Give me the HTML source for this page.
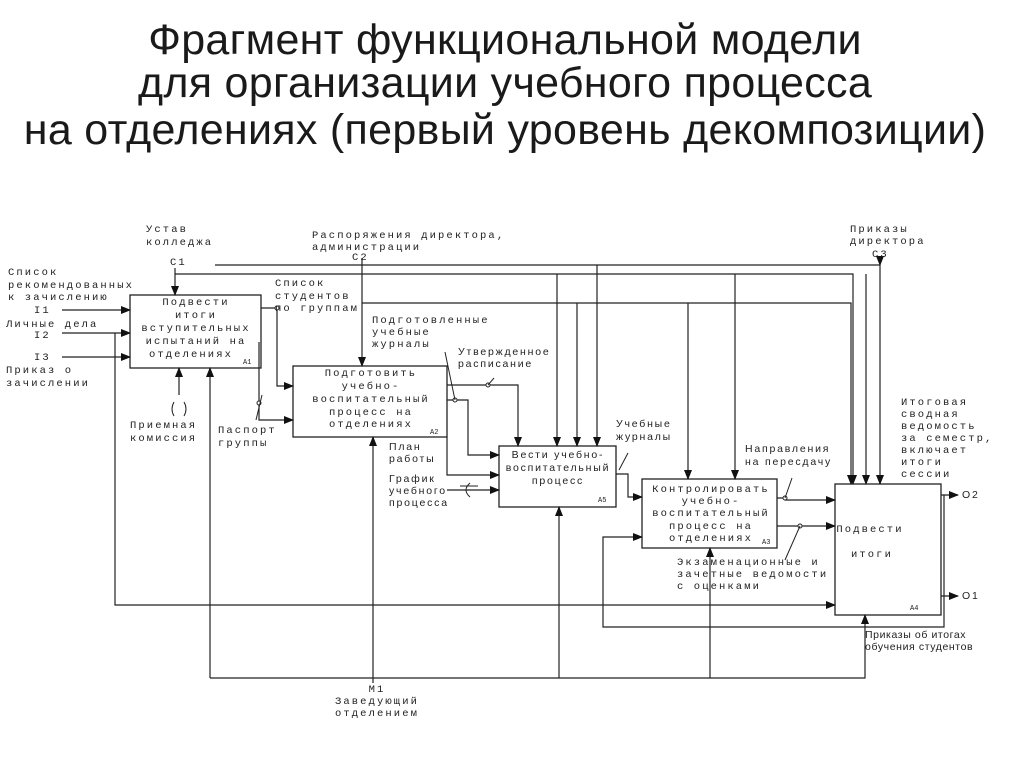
<!DOCTYPE html>
<html><head><meta charset="utf-8"><style>
html,body{margin:0;padding:0;background:#fff;width:1024px;height:768px;overflow:hidden}
.t{position:absolute;left:0;width:1010px;text-align:center;font-family:"Liberation Sans",sans-serif;font-size:43px;color:#1a1a1a;line-height:46px;white-space:nowrap;letter-spacing:0.3px}
svg{position:absolute;left:0;top:0}
text{font-family:"Liberation Mono",monospace;font-size:10.5px;fill:#222;letter-spacing:2.1px}
.s{font-family:"Liberation Sans",sans-serif;font-size:10.5px;letter-spacing:1.8px}
</style></head><body>
<div class="t" style="top:17px">Фрагмент функциональной модели</div>
<div class="t" style="top:60px">для организации учебного процесса</div>
<div class="t" style="top:107px">на отделениях (первый уровень декомпозиции)</div>
<svg width="1024" height="768" viewBox="0 0 1024 768">
<defs><marker id="a" markerWidth="10" markerHeight="8" refX="9" refY="4" orient="auto" markerUnits="userSpaceOnUse"><path d="M0,0 L10,4 L0,8z" fill="#111"/></marker></defs>
<g fill="none" stroke="#222" stroke-width="1.3">
<rect x="130" y="295" width="131" height="73"/>
<rect x="293" y="366" width="154" height="71"/>
<rect x="499" y="446" width="117" height="61"/>
<rect x="642" y="479" width="135" height="69"/>
<rect x="835" y="484" width="106" height="131"/>
</g>
<g fill="none" stroke="#222" stroke-width="1.2" marker-end="url(#a)">
<path d="M175,268 V295"/>
<path d="M175,274 H853 V484"/>
<path d="M215,265 H880 V484"/>
<path d="M880,258 V265"/>
<path d="M362,258 V366"/>
<path d="M362,303 H851 V484" />
<path d="M557,274 V446"/><path d="M577,303 V446"/><path d="M597,265 V446"/>
<path d="M688,303 V479"/><path d="M735,274 V479"/><path d="M866,274 V484"/>
<path d="M62,310 H130"/><path d="M62,333 H130"/><path d="M62,357 H130"/>
<path d="M115,333 V605 H835"/>
<path d="M261,308 H277 V386 H293"/>
<path d="M259,342 V420 H293"/>
<path d="M179,395 V368"/>
<path d="M210,678 V368"/>
<path d="M210,678 H865 V615"/>
<path d="M373,683 V437"/>
<path d="M559,678 V507"/><path d="M710,678 V548"/>
<path d="M447,385 H518 V446"/>
<path d="M447,400 H468 V455 H499"/>
<path d="M447,437 V475 H499"/>
<path d="M447,490 H499"/>
<path d="M616,474 H628 V497 H642"/>
<path d="M777,498 H785 V500 H835"/>
<path d="M777,526 H835"/>
<path d="M941,495 H958"/><path d="M941,596 H958"/>
<path d="M944,495 V627 H603 V537 H642"/>
</g>
<g fill="#fff" stroke="#222" stroke-width="1">
<circle cx="277" cy="308" r="2"/><circle cx="259" cy="403" r="2"/><circle cx="488" cy="385" r="2"/><circle cx="455" cy="400" r="2"/><circle cx="785" cy="498" r="2"/><circle cx="800" cy="526" r="2"/>
</g>
<g stroke="#222" stroke-width="1" fill="none">
<path d="M256,420 L262,395"/><path d="M488,385 L494,378"/><path d="M455,400 L445,352"/><path d="M619,470 L628,453"/><path d="M785,498 L792,478"/><path d="M800,526 L785,560"/>
<path d="M174,402 Q170,409 174,416"/><path d="M184,402 Q188,409 184,416"/>
<path d="M470,483 Q462,490 470,497"/><path d="M460,486 H478"/>
</g>
<text x="146" y="232">Устав</text><text x="146" y="245">колледжа</text>
<text x="170" y="265">C1</text>
<text x="312" y="238">Распоряжения директора,</text><text x="312" y="250">администрации</text>
<text x="352" y="260">C2</text>
<text x="850" y="232">Приказы</text><text x="850" y="244">директора</text><text x="872" y="257">C3</text>
<text x="8" y="275">Список</text><text x="8" y="288">рекомендованных</text><text x="8" y="300">к зачислению</text>
<text x="34" y="313">I1</text><text x="6" y="327">Личные дела</text><text x="34" y="338">I2</text>
<text x="34" y="360">I3</text><text x="6" y="373">Приказ о</text><text x="6" y="386">зачислении</text>
<g text-anchor="middle">
<text x="196" y="305">Подвести</text><text x="196" y="318">итоги</text><text x="196" y="331">вступительных</text><text x="196" y="344">испытаний на</text><text x="191" y="357">отделениях</text>
<text x="371" y="376">Подготовить</text><text x="371" y="389">учебно-</text><text x="371" y="402">воспитательный</text><text x="371" y="415">процесс на</text><text x="371" y="427">отделениях</text>
<text class="s" x="558" y="458">Вести учебно-</text><text class="s" x="558" y="471">воспитательный</text><text class="s" x="558" y="484">процесс</text>
<text x="711" y="492">Контролировать</text><text x="711" y="504">учебно-</text><text x="711" y="516">воспитательный</text><text x="711" y="529">процесс на</text><text x="711" y="541">отделениях</text>
<text x="870" y="532">Подвести</text><text x="872" y="557">итоги</text>
<text x="377" y="692">M1</text><text x="377" y="704">Заведующий</text><text x="377" y="716">отделением</text>
</g>
<g><text x="243" y="364" style="font-size:7px;letter-spacing:0">A1</text><text x="430" y="434" style="font-size:7px;letter-spacing:0">A2</text><text x="598" y="502" style="font-size:7px;letter-spacing:0">A5</text><text x="762" y="544" style="font-size:7px;letter-spacing:0">A3</text><text x="910" y="610" style="font-size:7px;letter-spacing:0">A4</text></g>
<text x="275" y="286">Список</text><text x="275" y="299">студентов</text><text x="275" y="311">по группам</text>
<text x="372" y="323">Подготовленные</text><text x="372" y="335">учебные</text><text x="372" y="347">журналы</text>
<text class="s" x="458" y="355">Утвержденное</text><text class="s" x="458" y="367">расписание</text>
<text x="130" y="428">Приемная</text><text x="130" y="441">комиссия</text>
<text x="218" y="433">Паспорт</text><text x="218" y="446">группы</text>
<text class="s" x="389" y="450">План</text><text class="s" x="389" y="462">работы</text>
<text class="s" x="389" y="482">График</text><text class="s" x="389" y="494">учебного</text><text class="s" x="389" y="506">процесса</text>
<text class="s" x="616" y="427">Учебные</text><text class="s" x="616" y="440">журналы</text>
<text class="s" x="745" y="452">Направления</text><text class="s" x="745" y="465">на пересдачу</text>
<text x="677" y="565">Экзаменационные и</text><text x="677" y="577">зачетные ведомости</text><text x="677" y="589">с оценками</text>
<text x="901" y="405">Итоговая</text><text x="901" y="417">сводная</text><text x="901" y="429">ведомость</text><text x="901" y="441">за семестр,</text><text x="901" y="453">включает</text><text x="901" y="465">итоги</text><text x="901" y="477">сессии</text>
<text class="s" x="962" y="498">O2</text><text class="s" x="962" y="599">O1</text>
<text class="s" x="865" y="638" style="letter-spacing:0.6px">Приказы об итогах</text><text class="s" x="865" y="650" style="letter-spacing:0.6px">обучения студентов</text>
</svg>
</body></html>
